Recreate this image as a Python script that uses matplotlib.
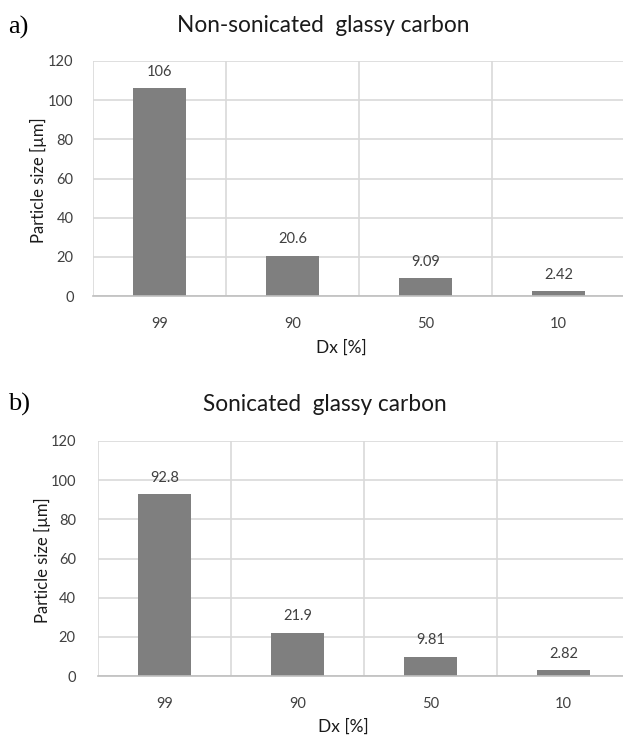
import matplotlib
matplotlib.use("Agg")
import matplotlib.pyplot as plt

categories = ["99", "90", "50", "10"]
values_a = [106, 20.6, 9.09, 2.42]
labels_a = ["106", "20.6", "9.09", "2.42"]
values_b = [92.8, 21.9, 9.81, 2.82]
labels_b = ["92.8", "21.9", "9.81", "2.82"]
title_a = "Non-sonicated  glassy carbon"
title_b = "Sonicated  glassy carbon"
yticks = [0, 20, 40, 60, 80, 100, 120]

W, H = 623, 735
fig = plt.figure(figsize=(W / 100, H / 100), dpi=100)
plt.rcParams['font.family'] = ['Lato', 'DejaVu Sans']

TXT = '#404040'
BAR = '#7f7f7f'
GRID = '#d9d9d9'


def fx(x):
    return x / W


def fy(y):
    return 1 - y / H


def panel(left, right, top, bottom, values, labels, title, letter,
          title_y, letter_y, xlabel_x, xlabel_y, ylabel_x, ytick_pad):
    ax = fig.add_axes([fx(left), fy(bottom), fx(right) - fx(left), fy(top) - fy(bottom)])
    x = list(range(len(categories)))
    ax.bar(x, values, width=0.4, color=BAR, zorder=3)
    ax.set_xlim(-0.5, len(categories) - 0.5)
    ax.set_ylim(0, 120)
    ax.set_yticks(yticks)
    ax.set_xticks(x)
    ax.set_xticklabels(categories)
    ax.set_xticks([i + 0.5 for i in range(-1, len(categories))], minor=True)
    ax.grid(axis='y', which='major', color=GRID, lw=1.2, zorder=0)
    ax.grid(axis='x', which='minor', color=GRID, lw=1.2, zorder=0)
    ax.tick_params(axis='both', which='both', length=0, labelsize=10.5, colors=TXT)
    ax.tick_params(axis='x', pad=15)
    ax.tick_params(axis='y', pad=ytick_pad)
    for s in ['top', 'right', 'left']:
        ax.spines[s].set_visible(False)
    ax.spines['bottom'].set_color('#bfbfbf')
    ax.spines['bottom'].set_linewidth(1.2)
    ax.spines['bottom'].set_zorder(4)
    for xi, v, lab in zip(x, values, labels):
        ax.annotate(lab, (xi, v), xytext=(0, 12), textcoords='offset points',
                    ha='center', va='center', fontsize=10.5, color=TXT)
    fig.text(fx(xlabel_x), fy(title_y), title, ha='center', va='center',
             fontsize=16.3, color='#1a1a1a')
    fig.text(fx(8), fy(letter_y), letter, ha='left', va='center',
             fontsize=19, family='Liberation Serif', color='black')
    fig.text(fx(xlabel_x + 18), fy(xlabel_y), "Dx [%]", ha='center', va='center',
             fontsize=12.5, color='#1a1a1a')
    fig.text(fx(ylabel_x), fy((top + bottom) / 2 + 2), "Particle size [µm]",
             ha='center', va='center', rotation=90, fontsize=12, color='#1a1a1a')
    return ax


panel(93, 625, 61, 296, values_a, labels_a, title_a, "a)",
      26, 27, 323, 348, 38, 14)
panel(98, 630, 441, 676, values_b, labels_b, title_b, "b)",
      405, 404, 325, 727, 42, 16)

fig.savefig("out.png", dpi=100)
